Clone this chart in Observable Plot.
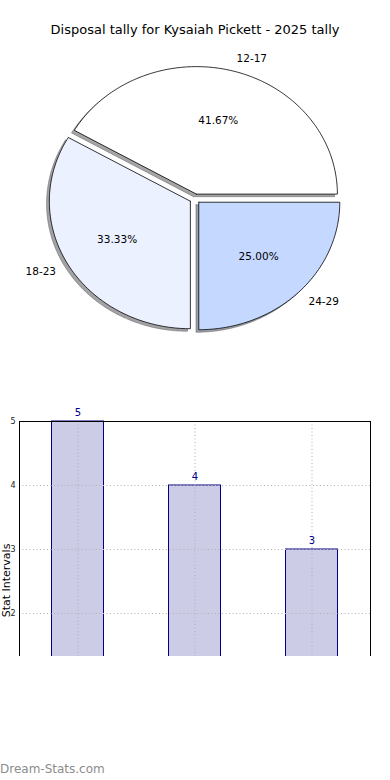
<!DOCTYPE html>
<html><head><meta charset="utf-8">
<script src="https://cdn.jsdelivr.net/npm/d3@7"></script>
<script src="https://cdn.jsdelivr.net/npm/@observablehq/plot@0.6"></script>
<style>
body{margin:0;background:#fff;font-family:"DejaVu Sans",sans-serif;}
#wrap{position:relative;width:390px;height:780px;overflow:hidden;background:#fff;}
#title{position:absolute;left:0;top:22px;width:390px;text-align:center;font-size:13px;color:#000;}
#pie{position:absolute;left:0;top:40px;}
#bars{position:absolute;left:0;top:400px;width:390px;height:256px;overflow:hidden;}
#wm{position:absolute;left:0;top:762px;font-size:12px;color:#8c8c8c;}
</style></head><body>
<div id="wrap">
<div id="title"></div>
<div id="pie"></div>
<div id="bars"></div>
<div id="wm">Dream-Stats.com</div>
</div>
<script>
const titleText = "Disposal tally for Kysaiah Pickett - 2025 tally";
const categories = ["12-17", "18-23", "24-29"];
const values = [5, 4, 3];
const sliceColors = ["#ffffff", "#ebf1ff", "#c5d8ff"];
const yTicks = [2, 3, 4, 5];
const yLabel = "Stat Intervals";

document.getElementById("title").textContent = titleText;

// ---------- Pie ----------
const total = d3.sum(values);
const explode = 0.038, shadowOff = 0.02;
let a = 0;
const slices = categories.map((c, i) => {
  const a0 = a, a1 = a + values[i] / total * 2 * Math.PI;
  a = a1;
  const mid = (a0 + a1) / 2;
  return {cat: c, i, a0, a1, mid, cx: explode * Math.cos(mid), cy: explode * Math.sin(mid),
          color: sliceColors[i], pct: (values[i] / total * 100).toFixed(2) + "%"};
});
const outline = [], shadows = [];
for (const s of slices) {
  const n = Math.max(8, Math.ceil((s.a1 - s.a0) / (Math.PI / 180)));
  const pts = [[s.cx, s.cy]];
  for (let k = 0; k <= n; k++) {
    const t = s.a0 + (s.a1 - s.a0) * k / n;
    pts.push([s.cx + Math.cos(t), s.cy + Math.sin(t)]);
  }
  pts.push([s.cx, s.cy]);
  const c = d3.rgb(s.color);
  const dark = d3.rgb(c.r * 0.3, c.g * 0.3, c.b * 0.3).formatHex();
  for (const [x, y] of pts) {
    outline.push({cat: s.cat, x, y, fill: s.color});
    shadows.push({cat: s.cat, x: x - shadowOff, y: y - shadowOff, fill: dark});
  }
}
const labelRows = slices.map(s => ({
  cat: s.cat, pct: s.pct,
  lx: s.cx + 1.1 * Math.cos(s.mid), ly: s.cy + 1.1 * Math.sin(s.mid),
  px: s.cx + 0.6 * Math.cos(s.mid), py: s.cy + 0.6 * Math.sin(s.mid),
  right: Math.cos(s.mid) >= 0
}));

const PW = 390, PH = 320, CX = 194.5, CY = 158.3, RX = 141, RY = 127.5;
const pie = Plot.plot({
  width: PW, height: PH, margin: 0,
  style: {fontFamily: "DejaVu Sans, sans-serif", fontSize: "10px", background: "transparent"},
  x: {domain: [-CX / RX, (PW - CX) / RX], range: [0, PW], axis: null},
  y: {domain: [(CY - PH) / RY, CY / RY], range: [PH, 0], axis: null},
  color: {type: "identity"},
  marks: [
    Plot.line(shadows, {x: "x", y: "y", z: "cat", fill: "fill", stroke: "fill", fillOpacity: 0.5, strokeOpacity: 0.5, strokeWidth: 0.8, curve: "linear"}),
    Plot.line(outline, {x: "x", y: "y", z: "cat", fill: "fill", stroke: "#000", strokeWidth: 0.8, curve: "linear"}),
    Plot.text(labelRows.filter(d => d.right), {x: "lx", y: "ly", text: "cat", textAnchor: "start", fontSize: 10.5, fill: "#000"}),
    Plot.text(labelRows.filter(d => !d.right), {x: "lx", y: "ly", text: "cat", textAnchor: "end", fontSize: 10.5, fill: "#000"}),
    Plot.text(labelRows, {x: "px", y: "py", text: "pct", textAnchor: "middle", fontSize: 10.5, fill: "#000"})
  ]
});
document.getElementById("pie").append(pie);

// ---------- Bars ----------
const barData = categories.map((c, i) => ({cat: c, value: values[i]}));
const BH = 270, MT = 21, MB = 10, PX_PER = 64;
const yMin = 5 - (BH - MT - MB) / PX_PER;
const labelY = 5 - (180 - MT) / PX_PER; // vertical centre of the (taller, cut) axis
const bars = Plot.plot({
  width: 390, height: BH,
  marginLeft: 19, marginRight: 20, marginTop: MT, marginBottom: MB,
  style: {fontFamily: "DejaVu Sans, sans-serif", fontSize: "8px", color: "#222", background: "transparent"},
  x: {domain: categories, padding: 0, axis: null},
  y: {domain: [yMin, 5], ticks: yTicks, tickSize: 0, tickPadding: 4, label: null, tickFormat: d => String(d)},
  marks: [
    Plot.barY(barData, {x: "cat", y: "value", fill: "#ccccE6", stroke: "#000080", strokeWidth: 1, insetLeft: 32.5, insetRight: 32.5}),
    Plot.gridY(yTicks, {stroke: "#b0b0b0", strokeOpacity: 1, strokeDasharray: "1,2.5"}),
    Plot.ruleX(categories, {x: d => d, stroke: "#b0b0b0", strokeOpacity: 1, strokeDasharray: "1,2.5"}),
    Plot.frame({stroke: "#000", strokeWidth: 1}),
    Plot.text(barData, {x: "cat", y: "value", text: d => String(d.value), dy: -6, lineAnchor: "bottom", fill: "#00008b", fontSize: 10}),
    Plot.text([yLabel], {frameAnchor: "left", y: () => labelY, rotate: -90, dx: -13, textAnchor: "middle", lineAnchor: "middle", fontSize: 11, fill: "#000"})
  ]
});
document.getElementById("bars").append(bars);
</script>
</body></html>
